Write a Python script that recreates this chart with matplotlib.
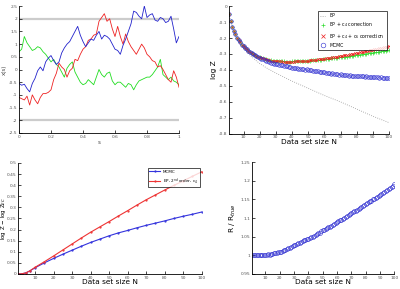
import numpy as np
import matplotlib
matplotlib.use("Agg")
import matplotlib.pyplot as plt

# --- panel 1: sample paths x(s)
blue_path = [-0.55, -0.62, -0.58, -0.75, -0.88, -0.55, -0.35, -0.05, 0.1, -0.05,
             0.3, 0.45, 0.55, 0.35, 0.2, 0.3, 0.65, 0.85, 1.0, 1.1,
             1.3, 1.5, 1.7, 1.35, 1.1, 0.9, 1.05, 1.2, 1.15, 1.35,
             1.5, 1.2, 1.35, 1.3, 1.2, 1.0, 0.8, 0.75, 0.6, 0.95,
             1.2, 1.5, 1.8, 2.3, 2.25, 2.1, 2.0, 2.5, 2.05, 2.15,
             2.2, 1.95, 1.9, 2.05, 2.0, 1.85, 1.9, 2.1, 1.6, 1.05, 1.3]
red_path = [-1.1, -1.15, -1.2, -1.05, -1.4, -1.0, -1.2, -1.35, -1.1, -0.95,
            -0.95, -0.9, -0.8, -0.4, -0.15, 0.25, 0.1, 0.0, -0.3, -0.05,
            0.05, 0.4, 0.35, 0.6, 0.8, 0.9, 1.15, 1.2, 1.35, 1.4,
            1.9, 2.05, 2.2, 1.9, 2.0, 1.6, 1.3, 1.7, 1.3, 1.0,
            1.4, 1.1, 0.9, 0.75, 0.6, 0.8, 1.0, 0.85, 0.6, 0.5,
            0.35, 0.3, 0.1, 0.15, 0.0, -0.2, -0.4, -0.5, -0.05, -0.3, -0.7]
green_path = [0.7, 0.8, 1.3, 1.05, 0.9, 0.75, 0.8, 0.9, 0.85, 0.7,
              0.6, 0.45, 0.3, 0.4, 0.2, 0.1, -0.1, -0.3, 0.05, 0.2,
              0.3, -0.1, -0.3, -0.5, -0.6, -0.55, -0.4, -0.5, -0.6, -0.3,
              0.0, -0.2, -0.3, -0.15, -0.1, -0.45, -0.6, -0.5, -0.5, -0.6,
              -0.7, -0.55, -0.6, -0.8, -0.6, -0.45, -0.4, -0.35, -0.3, -0.3,
              -0.2, -0.05, 0.1, 0.4, -0.2, -0.3, -0.4, -0.3, -0.45, -0.5, -0.6]
bounds = [-2, 2]

# --- panel 2: log Z vs data set size
N = np.arange(1, 101)
ep_N = [1, 2, 3, 4, 5, 6, 8, 10, 12, 15, 20, 25, 30, 35, 40, 50, 60, 70, 80, 90, 100]
ep_logz = [-0.048, -0.092, -0.128, -0.157, -0.181, -0.202, -0.236, -0.265, -0.288,
           -0.318, -0.36, -0.392, -0.42, -0.445, -0.47, -0.515, -0.56, -0.60, -0.645,
           -0.69, -0.73]
c4_logz = [-0.048, -0.092, -0.128, -0.155, -0.178, -0.198, -0.214, -0.228, -0.241, -0.252,
           -0.262, -0.271, -0.279, -0.287, -0.294, -0.300, -0.306, -0.311, -0.316, -0.320,
           -0.324, -0.327, -0.330, -0.333, -0.336, -0.338, -0.340, -0.341, -0.343, -0.344,
           -0.345, -0.346, -0.346, -0.347, -0.347, -0.348, -0.348, -0.348, -0.348, -0.347,
           -0.347, -0.347, -0.346, -0.346, -0.345, -0.345, -0.344, -0.343, -0.343, -0.342,
           -0.341, -0.340, -0.339, -0.339, -0.338, -0.337, -0.336, -0.335, -0.334, -0.333,
           -0.332, -0.331, -0.330, -0.328, -0.327, -0.326, -0.325, -0.324, -0.322, -0.321,
           -0.320, -0.318, -0.317, -0.316, -0.314, -0.313, -0.311, -0.310, -0.308, -0.307,
           -0.305, -0.304, -0.302, -0.301, -0.299, -0.298, -0.296, -0.295, -0.293, -0.292,
           -0.290, -0.289, -0.287, -0.286, -0.284, -0.283, -0.281, -0.279, -0.278, -0.276]
c6_logz = [-0.048, -0.092, -0.128, -0.155, -0.178, -0.198, -0.214, -0.228, -0.241, -0.252,
           -0.262, -0.271, -0.279, -0.287, -0.294, -0.300, -0.306, -0.311, -0.316, -0.321,
           -0.325, -0.328, -0.331, -0.334, -0.337, -0.339, -0.341, -0.342, -0.344, -0.345,
           -0.346, -0.347, -0.347, -0.348, -0.348, -0.349, -0.349, -0.349, -0.349, -0.348,
           -0.348, -0.347, -0.347, -0.346, -0.345, -0.345, -0.344, -0.343, -0.342, -0.341,
           -0.340, -0.339, -0.338, -0.337, -0.336, -0.334, -0.333, -0.332, -0.330, -0.329,
           -0.327, -0.326, -0.324, -0.323, -0.321, -0.319, -0.318, -0.316, -0.314, -0.313,
           -0.311, -0.309, -0.307, -0.305, -0.304, -0.302, -0.300, -0.298, -0.296, -0.294,
           -0.292, -0.290, -0.288, -0.286, -0.284, -0.282, -0.280, -0.278, -0.276, -0.274,
           -0.272, -0.270, -0.267, -0.265, -0.263, -0.261, -0.259, -0.256, -0.254, -0.252]
mcmc_logz = [-0.048, -0.092, -0.128, -0.155, -0.178, -0.198, -0.214, -0.228, -0.241, -0.252,
             -0.262, -0.271, -0.280, -0.287, -0.295, -0.301, -0.308, -0.314, -0.319, -0.325,
             -0.329, -0.334, -0.339, -0.342, -0.347, -0.350, -0.354, -0.357, -0.360, -0.362,
             -0.364, -0.367, -0.369, -0.370, -0.373, -0.375, -0.378, -0.380, -0.383, -0.385,
             -0.387, -0.389, -0.388, -0.392, -0.394, -0.393, -0.397, -0.398, -0.396, -0.400,
             -0.403, -0.402, -0.406, -0.407, -0.405, -0.409, -0.411, -0.410, -0.414, -0.416,
             -0.422, -0.420, -0.422, -0.424, -0.421, -0.425, -0.427, -0.426, -0.429, -0.428,
             -0.431, -0.430, -0.433, -0.432, -0.435, -0.434, -0.437, -0.435, -0.438, -0.436,
             -0.439, -0.438, -0.441, -0.440, -0.442, -0.441, -0.444, -0.442, -0.445, -0.443,
             -0.445, -0.447, -0.444, -0.448, -0.446, -0.449, -0.450, -0.448, -0.452, -0.453]

# --- panel 3: log Z - log Z_EC
diff_N = [1, 3, 5, 7, 10, 15, 20, 25, 30, 35, 40, 45, 50, 55, 60, 65, 70, 75, 80, 85, 90, 95, 100]
diff_mcmc = [0, 0.001, 0.005, 0.013, 0.028, 0.05, 0.07, 0.089, 0.107, 0.125, 0.142, 0.157,
             0.172, 0.185, 0.196, 0.208, 0.219, 0.229, 0.239, 0.25, 0.26, 0.269, 0.279]
diff_ep = [0, 0.001, 0.005, 0.013, 0.03, 0.055, 0.081, 0.108, 0.135, 0.162, 0.188, 0.212,
           0.236, 0.261, 0.285, 0.310, 0.334, 0.356, 0.378, 0.399, 0.419, 0.44, 0.46]

# --- panel 4: R / R_true
ratio = [1.000, 1.000, 1.001, 1.000, 1.001, 1.000, 1.001, 1.002, 1.001, 1.002,
         1.001, 1.003, 1.002, 1.004, 1.003, 1.005, 1.006, 1.006, 1.008, 1.009,
         1.010, 1.012, 1.013, 1.015, 1.017, 1.019, 1.021, 1.023, 1.025, 1.028,
         1.029, 1.031, 1.033, 1.034, 1.036, 1.038, 1.040, 1.041, 1.043, 1.045,
         1.046, 1.048, 1.050, 1.053, 1.055, 1.056, 1.059, 1.061, 1.064, 1.067,
         1.068, 1.070, 1.072, 1.075, 1.077, 1.080, 1.082, 1.084, 1.087, 1.089,
         1.091, 1.094, 1.096, 1.098, 1.101, 1.103, 1.106, 1.108, 1.110, 1.113,
         1.115, 1.118, 1.120, 1.122, 1.125, 1.127, 1.130, 1.132, 1.135, 1.137,
         1.140, 1.142, 1.145, 1.147, 1.150, 1.152, 1.155, 1.157, 1.160, 1.162,
         1.165, 1.167, 1.170, 1.172, 1.175, 1.177, 1.180, 1.183, 1.186, 1.190]

TICK = 3.2
LAB = 5.3


def matlab_axes(ax):
    ax.tick_params(direction="in", length=2, width=0.5, labelsize=TICK,
                   labelcolor="#555555", pad=1.2)
    for side in ["top", "right"]:
        ax.spines[side].set_visible(False)
    for side in ["left", "bottom"]:
        ax.spines[side].set_linewidth(0.6)


fig = plt.figure(figsize=(4.0, 2.89), dpi=100)

# top-left
ax1 = fig.add_axes([0.0475, 0.540, 0.40, 0.439])
for b in bounds:
    ax1.axhline(b, color="#cccccc", lw=1.6, zorder=0)
s = np.linspace(0, 1, len(blue_path))
ax1.plot(s, green_path, color="#22dd22", lw=0.6)
ax1.plot(s, red_path, color="#ee2222", lw=0.6)
ax1.plot(s, blue_path, color="#2222cc", lw=0.6)
ax1.set_xlim(0, 1)
ax1.set_ylim(-2.5, 2.5)
ax1.set_yticks(np.arange(-2.5, 2.51, 0.5))
ax1.set_xticks(np.arange(0, 1.01, 0.2))
ax1.set_xticklabels(["0", "0.2", "0.4", "0.6", "0.8", "1"])
ax1.set_yticklabels(["-2.5", "-2", "-1.5", "-1", "-0.5", "0", "0.5", "1", "1.5", "2", "2.5"])
ax1.set_xlabel("s", fontsize=4, labelpad=1, color="#444444")
ax1.set_ylabel("x(s)", fontsize=4, labelpad=1, color="#444444")
matlab_axes(ax1)

# top-right
ax2 = fig.add_axes([0.5725, 0.537, 0.40, 0.442])
ax2.plot(ep_N, ep_logz, ls=":", color="#999999", lw=0.6, label="EP")
ax2.plot(N, c4_logz, ls="none", marker="+", ms=2.2, mew=0.5, color="#33dd33",
         label="EP + c$_4$ correction")
ax2.plot(N, c6_logz, ls="none", marker="x", ms=1.8, mew=0.5, color="#ee2222",
         label="EP + c$_4$ + c$_6$ correction")
ax2.plot(N, mcmc_logz, ls="none", marker="o", ms=2.6, mew=0.4, mfc="none",
         color="#2a2ad0", label="MCMC")
ax2.set_xlim(1, 100)
ax2.set_ylim(-0.8, 0)
ax2.set_xticks(range(10, 101, 10))
ax2.set_yticks(np.arange(-0.8, 0.01, 0.1))
ax2.set_yticklabels(["-0.8", "-0.7", "-0.6", "-0.5", "-0.4", "-0.3", "-0.2", "-0.1", "0"])
ax2.set_xlabel("Data set size N", fontsize=LAB, labelpad=0)
ax2.set_ylabel("log Z", fontsize=LAB, labelpad=1)
leg = ax2.legend(loc="upper right", fontsize=3.3, frameon=True, fancybox=False,
                 edgecolor="black", borderpad=0.5, handlelength=1.2, markerscale=1.3,
                 bbox_to_anchor=(1.0, 0.98))
leg.get_frame().set_linewidth(0.6)
matlab_axes(ax2)

# bottom-left
ax3 = fig.add_axes([0.046, 0.052, 0.458, 0.384])
ax3.plot(diff_N, diff_mcmc, color="#3333dd", lw=0.8, marker=".", ms=1.2, label="MCMC")
ax3.plot(diff_N, diff_ep, color="#ee3333", lw=0.8, marker=".", ms=1.2,
         label="EP, 2$^{nd}$ order, c$_4$")
ax3.set_xlim(1, 100)
ax3.set_ylim(0, 0.5)
ax3.set_xticks(range(10, 101, 10))
ax3.set_yticks(np.arange(0, 0.51, 0.05))
ax3.set_yticklabels(["0", "0.05", "0.1", "0.15", "0.2", "0.25", "0.3", "0.35", "0.4",
                     "0.45", "0.5"])
ax3.set_xlabel("Data set size N", fontsize=LAB, labelpad=-0.5)
ax3.set_ylabel("log Z $-$ log Z$_{EC}$", fontsize=4.0)
ax3.yaxis.set_label_coords(-0.058, 0.5)
leg = ax3.legend(loc="upper right", fontsize=3.0, frameon=True, fancybox=False,
                 edgecolor="black", borderpad=0.3, handlelength=2.5,
                 bbox_to_anchor=(1.0, 0.97))
leg.get_frame().set_linewidth(0.6)
matlab_axes(ax3)

# bottom-right
ax4 = fig.add_axes([0.631, 0.052, 0.355, 0.387])
ax4.plot(N, ratio, ls="none", marker="o", ms=2.8, mew=0.4, mfc="none", color="#2a2ad0")
ax4.set_xlim(1, 100)
ax4.set_ylim(0.95, 1.25)
ax4.set_xticks(range(10, 101, 10))
ax4.set_yticks(np.arange(0.95, 1.251, 0.05))
ax4.set_yticklabels(["0.95", "1", "1.05", "1.1", "1.15", "1.2", "1.25"])
ax4.set_xlabel("Data set size N", fontsize=LAB, labelpad=-0.5)
ax4.set_ylabel("R / R$_{true}$", fontsize=LAB, labelpad=2)
matlab_axes(ax4)

fig.savefig("out.png", dpi=100)
